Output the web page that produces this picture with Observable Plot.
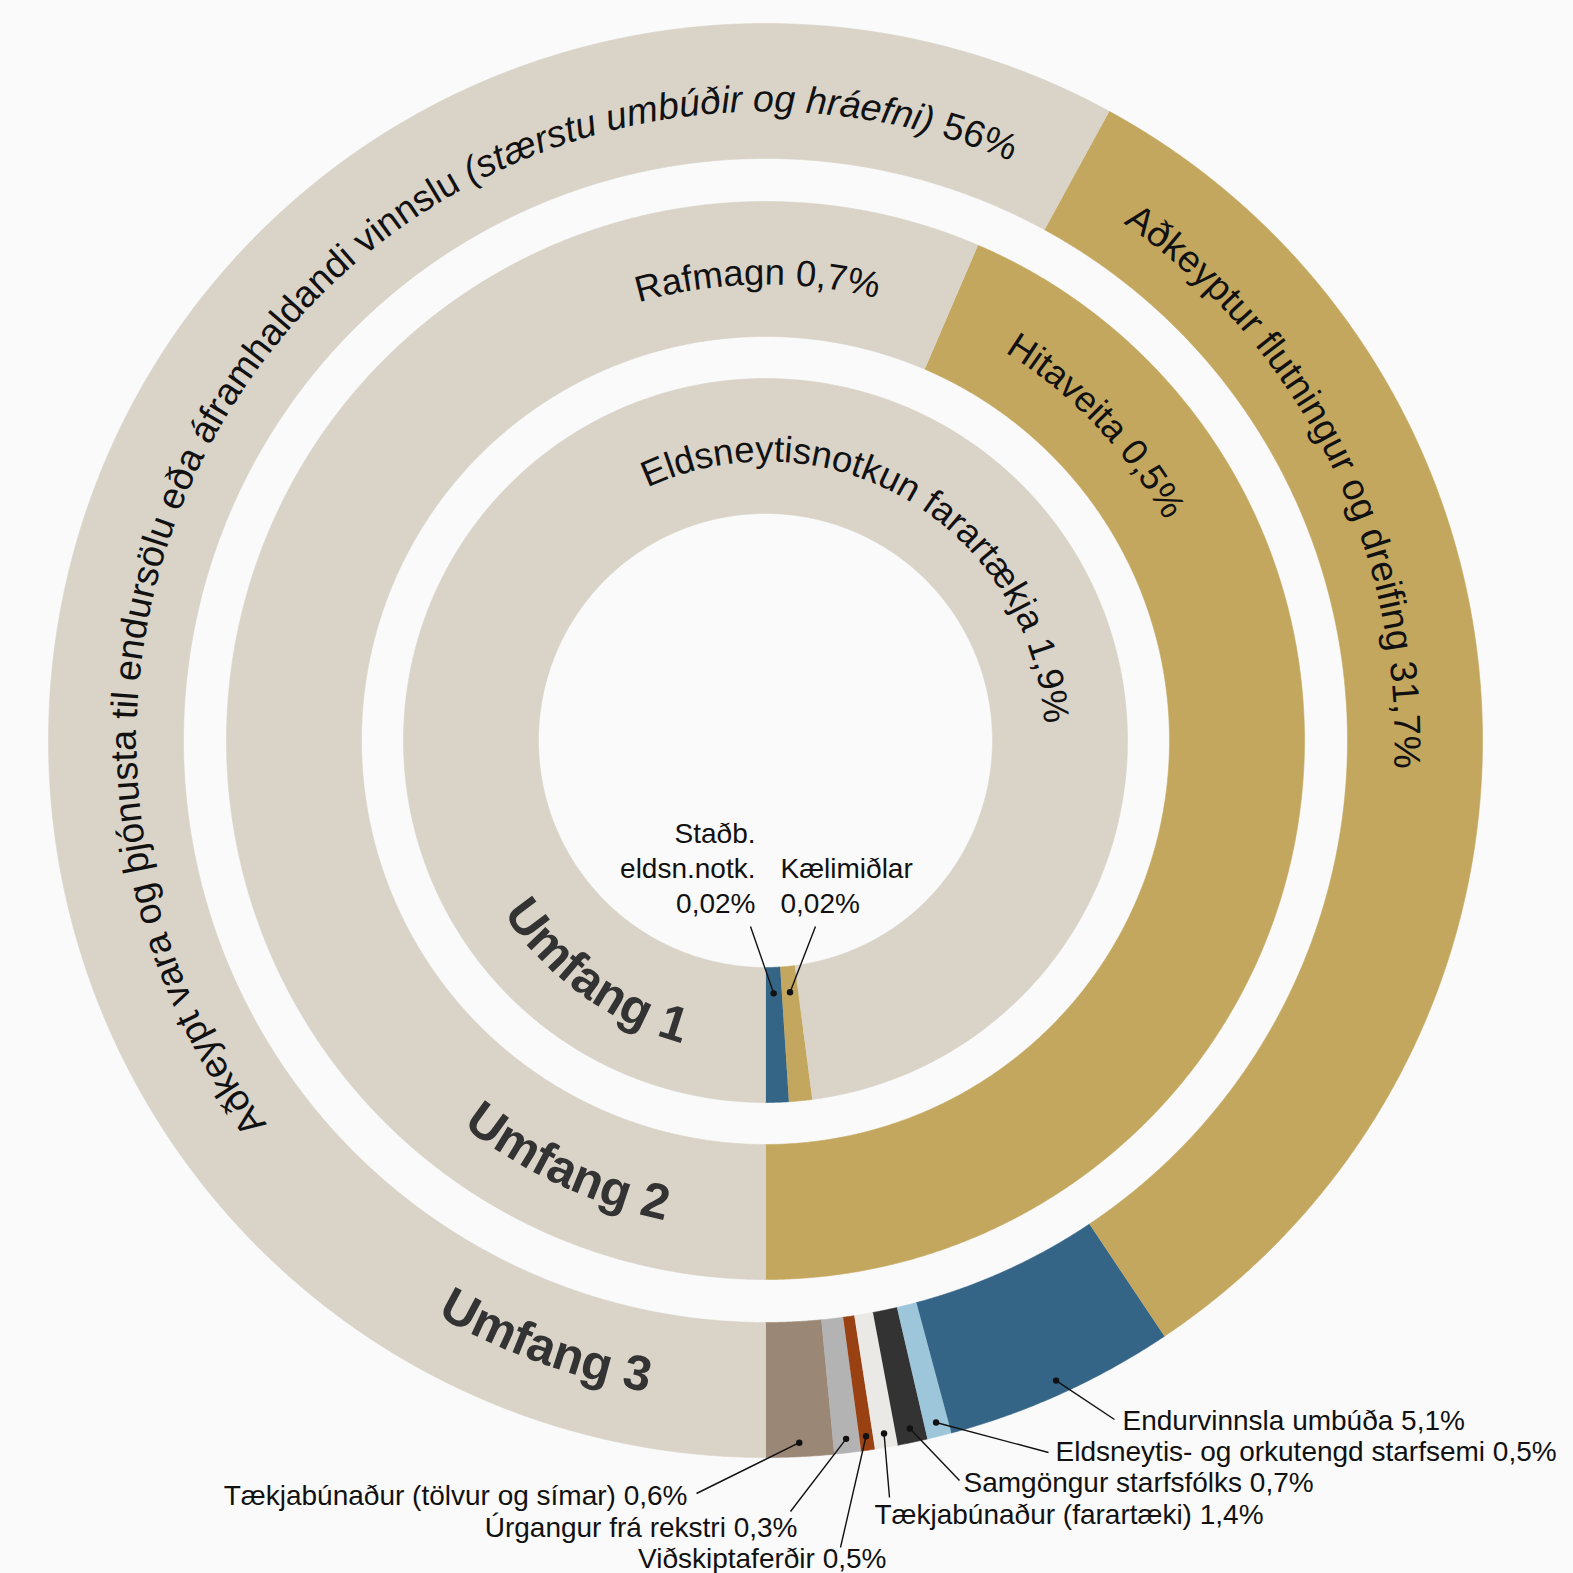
<!DOCTYPE html>
<html>
<head>
<meta charset="utf-8">
<script src="https://cdn.jsdelivr.net/npm/d3@7"></script>
<script src="https://cdn.jsdelivr.net/npm/@observablehq/plot@0.6"></script>
<style>
  html, body { margin: 0; padding: 0; background: #fafafa; }
  #chart svg { display: block; }
</style>
</head>
<body>
<div id="chart"></div>
<script>
// ---------------- DATA ----------------
const ringNames = ["Umfang 1", "Umfang 2", "Umfang 3"];

// Umfang 1 (inner ring)
const scope1Labels = ["Staðb.\neldsn.notk.\n0,02%", "Kælimiðlar\n0,02%", "Eldsneytisnotkun farartækja 1,9%"];
const scope1Values = [0.02, 0.02, 1.9];
const scope1Colors = ["#346587", "#c4a75e", "#d9d3c8"];

// Umfang 2 (middle ring)
const scope2Labels = ["Hitaveita 0,5%", "Rafmagn 0,7%"];
const scope2Values = [0.54, 0.70];
const scope2Colors = ["#c4a75e", "#d9d3c8"];

// Umfang 3 (outer ring) – slice sizes as drawn in the picture
const scope3Labels = [
  "Tækjabúnaður (tölvur og símar) 0,6%",
  "Úrgangur frá rekstri 0,3%",
  "Viðskiptaferðir 0,5%",
  "Tækjabúnaður (farartæki) 1,4%",
  "Samgöngur starfsfólks 0,7%",
  "Eldsneytis- og orkutengd starfsemi 0,5%",
  "Endurvinnsla umbúða 5,1%",
  "Aðkeyptur flutningur og dreifing 31,7%",
  "Aðkeypt vara og þjónusta til endursölu eða áframhaldandi vinnslu (stærstu umbúðir og hráefni) 56%"
];
const scope3Values = [1.48, 0.58, 0.3, 0.5, 0.65, 0.53, 5.05, 31.6, 56.1];
const scope3Colors = ["#9a8776", "#b3b3b3", "#9a4113", "#ebe9e5", "#333333", "#9ec6db", "#346587", "#c4a75e", "#d9d3c8"];

// ---------------- LAYOUT ----------------
const W = 1573, H = 1573, CX = 765, CY = 740;
const FAMILY = "'Liberation Sans', Arial, Helvetica, sans-serif";
const INK = "#111111";
const SCOPE_SIZE = 49.5, CALLOUT_SIZE = 28;

const rings = [
  {name: ringNames[0], values: scope1Values, colors: scope1Colors, labels: scope1Labels, r0: 227, r1: 362, dotR: 253},
  {name: ringNames[1], values: scope2Values, colors: scope2Colors, labels: scope2Labels, r0: 404, r1: 539, dotR: 512},
  {name: ringNames[2], values: scope3Values, colors: scope3Colors, labels: scope3Labels, r0: 582, r1: 717, dotR: 703}
];

// curved labels inside slices: [ring, slice, centre angle (deg, clockwise from 12 o'clock), baseline radius, font size]
const arcLabelLayout = [
  [0, 2, 30.8, 279, 36.5],
  [1, 0, 46.4, 456, 36.5],
  [1, 1, -1.0, 456, 36.5],
  [2, 7, 63.6, 629, 37.5],
  [2, 8, -52.3, 629, 37.5]
];
// ring names (read counter-clockwise along the bottom-left)
const scopeLabelLayout = [[0, 216, 314], [1, 205, 490], [2, 200, 662]];

// callouts: [ring, slice, line end (dx,dy), text pos (dx,dy), anchor]
const calloutLayout = [
  [2, 0, [-69, 753], [-78, 756], "end"],
  [2, 1, [25, 771], [32, 788], "end"],
  [2, 2, [75, 807], [121, 819], "end"],
  [2, 3, [124, 757], [109, 775], "start"],
  [2, 4, [194, 740], [198, 743], "start"],
  [2, 5, [283, 712], [290, 712], "start"],
  [2, 6, [349, 679], [357, 681], "start"]
];
const innerCalloutLayout = [
  [0, 0, [-15, 186], [-10, 172], "end"],
  [0, 1, [50, 186], [15, 172], "start"]
];

// ---------------- GEOMETRY ----------------
const arcsByRing = rings.map(r => d3.pie().sort(null).startAngle(Math.PI).endAngle(-Math.PI)(r.values));

const slicePts = [];
rings.forEach((ring, k) => {
  arcsByRing[k].forEach((a, i) => {
    const id = k + "-" + i, color = ring.colors[i];
    const a0 = a.startAngle, a1 = a.endAngle;
    const n = Math.max(2, Math.ceil(Math.abs(a1 - a0) / (Math.PI / 900)));
    for (let j = 0; j <= n; j++) {
      const t = a0 + (a1 - a0) * j / n;
      slicePts.push({id, color, x: ring.r1 * Math.sin(t), y: -ring.r1 * Math.cos(t)});
    }
    for (let j = n; j >= 0; j--) {
      const t = a0 + (a1 - a0) * j / n;
      slicePts.push({id, color, x: ring.r0 * Math.sin(t), y: -ring.r0 * Math.cos(t)});
    }
  });
});

// ---------------- CURVED TEXT ----------------
const ctx = document.createElement("canvas").getContext("2d");
function measure(str, font) { ctx.font = font; return ctx.measureText(str).width; }

function arcChars(text, {centerDeg, rb, dir, size, weight}) {
  const runs = [];
  const m = text.match(/^(.*?)(\(.*\))(.*)$/);
  if (m && dir > 0 && text.length > 60) {
    runs.push({t: m[1], italic: false}, {t: m[2], italic: true}, {t: m[3], italic: false});
  } else runs.push({t: text, italic: false});
  const chars = [];
  let off = 0;
  for (const run of runs) {
    const font = `${run.italic ? "italic " : ""}${weight} ${size}px ${FAMILY}`;
    const arr = Array.from(run.t);
    for (let i = 0; i < arr.length; i++) {
      const a = measure(arr.slice(0, i).join(""), font);
      const b = measure(arr.slice(0, i + 1).join(""), font);
      chars.push({ch: arr[i], s: off + (a + b) / 2, italic: run.italic});
    }
    off += measure(run.t, font);
  }
  const total = off, c = centerDeg * Math.PI / 180;
  return chars.filter(d => d.ch !== " ").map(d => {
    const phi = c + dir * (d.s - total / 2) / rb;
    return {ch: d.ch, italic: d.italic, size, x: rb * Math.sin(phi), y: -rb * Math.cos(phi),
            rotate: phi * 180 / Math.PI + (dir < 0 ? 180 : 0)};
  });
}

let arcGlyphs = [];
for (const [k, i, centerDeg, rb, size] of arcLabelLayout) {
  arcGlyphs = arcGlyphs.concat(arcChars(rings[k].labels[i], {centerDeg, rb, dir: 1, size, weight: "normal"}));
}
let scopeGlyphs = [];
for (const [k, centerDeg, rb] of scopeLabelLayout) {
  scopeGlyphs = scopeGlyphs.concat(arcChars(rings[k].name, {centerDeg, rb, dir: -1, size: SCOPE_SIZE, weight: "bold"}));
}

// ---------------- CALLOUTS ----------------
function centroid(k, i) {
  const a = arcsByRing[k][i], t = (a.startAngle + a.endAngle) / 2, r = rings[k].dotR;
  return [r * Math.sin(t), -r * Math.cos(t)];
}
const outerCallouts = calloutLayout.map(([k, i, e, t, anchor]) => {
  const [x, y] = centroid(k, i);
  return {x, y, ex: e[0], ey: e[1], tx: t[0], ty: t[1], anchor, label: rings[k].labels[i]};
});
const innerCallouts = innerCalloutLayout.map(([k, i, e, t, anchor]) => {
  const [x, y] = centroid(k, i);
  return {x, y, ex: e[0], ey: e[1], tx: t[0], ty: t[1], anchor, label: rings[k].labels[i]};
});
const allCallouts = outerCallouts.concat(innerCallouts);

const glyphMarks = [];
for (const size of [...new Set(arcGlyphs.map(d => d.size))]) {
  glyphMarks.push(
    Plot.text(arcGlyphs.filter(d => !d.italic && d.size === size), {x: "x", y: "y", text: "ch", rotate: "rotate", fontSize: size, lineAnchor: "bottom", fill: INK}),
    Plot.text(arcGlyphs.filter(d => d.italic && d.size === size), {x: "x", y: "y", text: "ch", rotate: "rotate", fontSize: size, fontStyle: "italic", lineAnchor: "bottom", fill: INK})
  );
}

const chart = Plot.plot({
  width: W, height: H, margin: 0,
  x: {domain: [-CX, W - CX], axis: null},
  y: {domain: [-CY, H - CY], reverse: true, axis: null},
  color: {type: "identity"},
  style: {background: "#fafafa", fontFamily: FAMILY},
  marks: [
    Plot.line(slicePts, {x: "x", y: "y", z: "id", fill: "color", stroke: "color", strokeWidth: 0.6, curve: "linear"}),
    ...glyphMarks,
    Plot.text(scopeGlyphs, {x: "x", y: "y", text: "ch", rotate: "rotate", fontSize: SCOPE_SIZE, fontWeight: "bold", lineAnchor: "bottom", fill: "#333333"}),
    Plot.link(allCallouts, {x1: "x", y1: "y", x2: "ex", y2: "ey", stroke: INK, strokeWidth: 1.4}),
    Plot.dot(allCallouts, {x: "x", y: "y", r: 3.2, fill: INK, stroke: null}),
    Plot.text(outerCallouts.filter(d => d.anchor === "end"), {x: "tx", y: "ty", text: "label", textAnchor: "end", fontSize: CALLOUT_SIZE, fill: INK}),
    Plot.text(outerCallouts.filter(d => d.anchor === "start"), {x: "tx", y: "ty", text: "label", textAnchor: "start", fontSize: CALLOUT_SIZE, fill: INK}),
    Plot.text(innerCallouts.filter(d => d.anchor === "end"), {x: "tx", y: "ty", text: "label", textAnchor: "end", lineAnchor: "bottom", lineHeight: 1.25, fontSize: CALLOUT_SIZE, fill: INK}),
    Plot.text(innerCallouts.filter(d => d.anchor === "start"), {x: "tx", y: "ty", text: "label", textAnchor: "start", lineAnchor: "bottom", lineHeight: 1.25, fontSize: CALLOUT_SIZE, fill: INK})
  ]
});
document.getElementById("chart").appendChild(chart);
</script>
</body>
</html>
